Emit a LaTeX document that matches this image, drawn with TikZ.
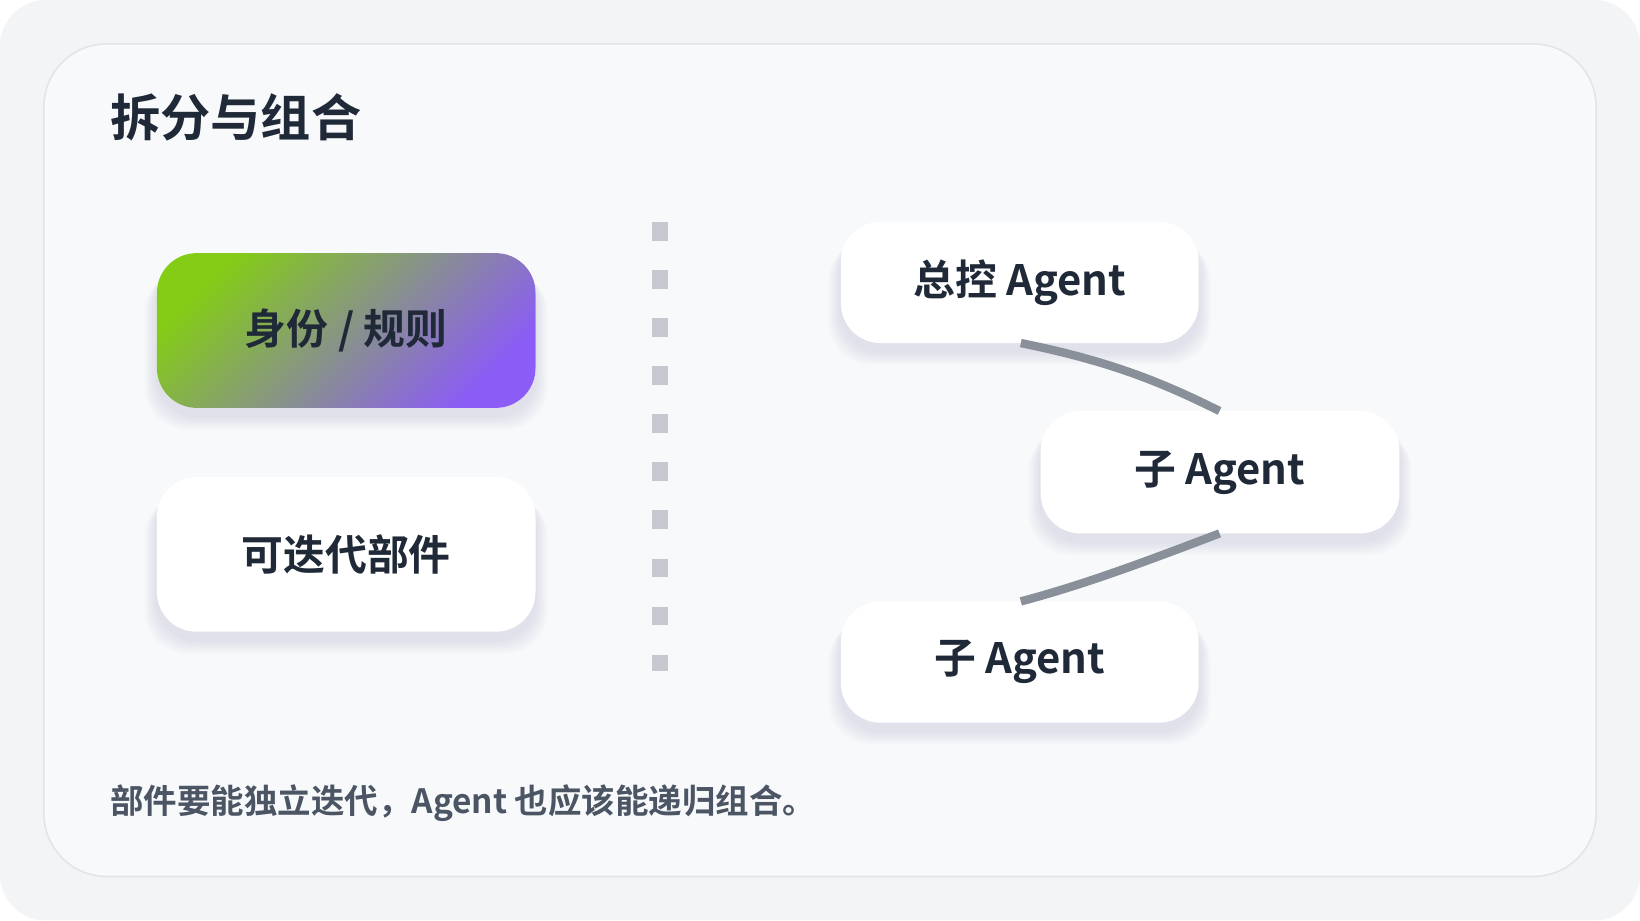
\documentclass[tikz,border=0pt]{standalone}
\usepackage{fontspec}
\setmainfont{Noto Sans CJK SC}[BoldFont={* Bold}]
\definecolor{ink}{HTML}{1F2937}
\definecolor{cap}{HTML}{4B5563}
\definecolor{card}{HTML}{F8F9FB}
\definecolor{bg}{HTML}{F3F4F6}
\definecolor{edge}{HTML}{E2E4E8}
\definecolor{conn}{HTML}{8A9099}
\definecolor{dashc}{HTML}{C5C8CE}
\definecolor{gA}{HTML}{84CC16}
\definecolor{gB}{HTML}{8B5CF6}
\definecolor{shd}{HTML}{1E2A50}
\newcommand{\softbox}[2]{%
  \foreach \k in {1,...,8}{
    \fill[shd,opacity=0.012,rounded corners=40pt] ($(#1)+(-\k*1.5,8+\k*1.2)$) rectangle ($(#2)+(\k*1.5,8+\k*1.6)$);
  }
  \fill[white,rounded corners=38pt] (#1) rectangle (#2);}
\usetikzlibrary{calc}
\begin{document}
\begin{tikzpicture}[x=1pt,y=-1pt,
  lbl/.style={font=\bfseries\fontsize{40}{44}\selectfont,text=ink},
  link/.style={draw=conn,line width=8pt}]
\useasboundingbox (0,0) rectangle (1568,880);
\fill[white] (0,0) rectangle (1568,880);
\fill[bg] (0,0) [rounded corners=44pt] rectangle (1568,880);
\draw[edge,fill=card,line width=1.5pt,rounded corners=60pt] (42,42) rectangle (1526,838);
\node[anchor=west,lbl,font=\bfseries\fontsize{48}{52}\selectfont] (title) at (102,112) {拆分与组合};
% left
\softbox{150,242}{512,390}
\shade[rounded corners=38pt,left color=gA,right color=gB,shading angle=45] (150,242) rectangle (512,390);
\node[lbl] (id) at (331,316) {身份 / 规则};
\softbox{150,456}{512,604}
\node[lbl] (it) at (331,530) {可迭代部件};
% divider
\coordinate (d1) at (631,212);
\coordinate (d2) at (631,642);
\draw[draw=dashc,line width=15pt,dash pattern=on 18pt off 28pt] (d1) -- (d2);
% right
\softbox{804,212}{1146,328}
\node[lbl] (m) at (975,270) {总控 Agent};
\softbox{995,393}{1338,510}
\node[lbl] (s1) at (1166,452) {子 Agent};
\softbox{804,575}{1146,691}
\node[lbl] (s2) at (975,633) {子 Agent};
\coordinate (a1) at (976,328);
\coordinate (a2) at (1166,393);
\coordinate (b1) at (1166,510);
\coordinate (b2) at (976,575);
\draw[link] (a1) .. controls (1060,345) and (1110,365) .. (a2);
\draw[link] (b1) .. controls (1100,535) and (1040,558) .. (b2);
\node[anchor=west,font=\bfseries\fontsize{32}{36}\selectfont,text=cap] (c) at (102,768) {部件要能独立迭代，Agent 也应该能递归组合。};
\end{tikzpicture}
\end{document}
